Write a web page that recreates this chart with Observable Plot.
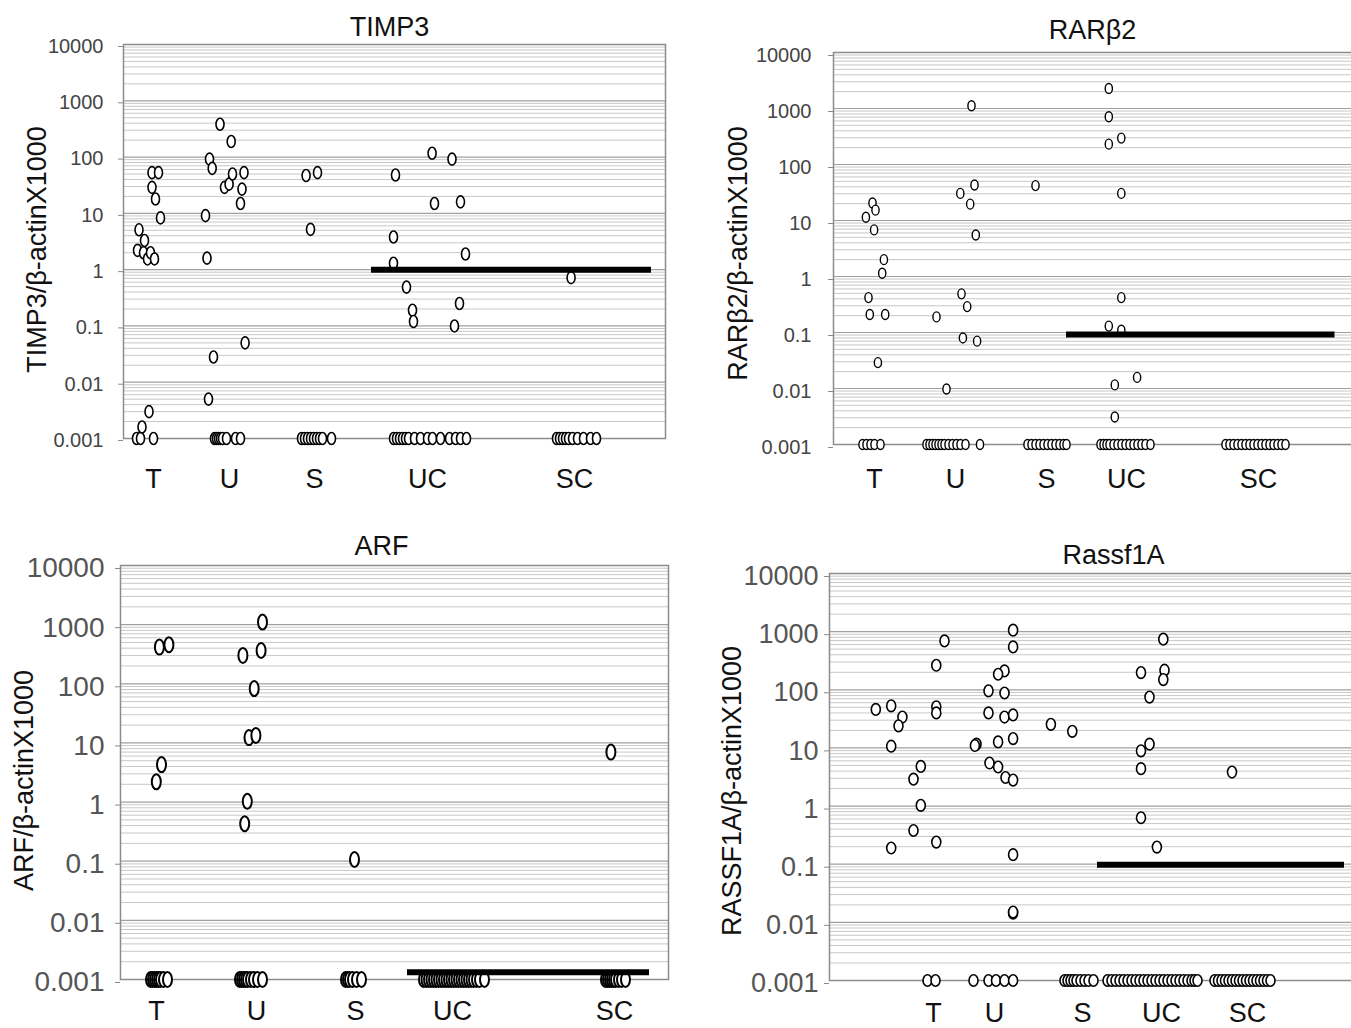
<!DOCTYPE html>
<html><head><meta charset="utf-8">
<script src="https://cdn.jsdelivr.net/npm/d3@7"></script>
<script src="https://cdn.jsdelivr.net/npm/@observablehq/plot@0.6"></script>
<style>
html,body{margin:0;padding:0;background:#fff;}
body{width:1351px;height:1028px;overflow:hidden;position:relative;font-family:"Liberation Sans",Arial,sans-serif;}
.panel{position:absolute;}
.panel svg{overflow:visible;max-width:none !important;}
</style></head><body>
<div id="p1" class="panel" style="left:0px;top:0px;width:680px"></div>
<div id="p2" class="panel" style="left:680px;top:0px;width:690px"></div>
<div id="p3" class="panel" style="left:0px;top:520px;width:680px"></div>
<div id="p4" class="panel" style="left:680px;top:520px;width:690px"></div>
<script>
// ---------- shared ----------
const groups = ["T", "U", "S", "UC", "SC"];
const tickValues = [0.001, 0.01, 0.1, 1, 10, 100, 1000, 10000];
const tickLabels = ["0.001", "0.01", "0.1", "1", "10", "100", "1000", "10000"];
const detectionFloor = 0.001; // undetected samples are plotted at the axis floor

// ---------- TIMP3 ----------
// group centres and per-sample [jitter, value]
const timp3Centers = [30, 106, 191, 304, 451];
const timp3Values = [
  [[-14.5,5.1],[-16,2.2],[-9,3.3],[-10,2.0],[-6,1.55],[-3,2.0],[1,1.55],[-1.5,53],[5,53],[-1.5,29],[2,18],[7,8.3],[-4.5,0.003],[-11.5,0.0016]],
  [[-24,9.1],[-22.5,1.6],[-20,92],[-17.3,63],[-9.5,383],[1.7,189],[-5,29],[-0.4,33],[3,50],[14.5,53],[12.5,27],[11,15],[-16,0.028],[15.6,0.05],[-21,0.005]],
  [[-8.4,47],[3,53],[-4,5.2]],
  [[-32,48],[-34,3.8],[-34,1.3],[-21,0.49],[-15,0.19],[-14,0.12],[4.6,117],[24.5,92],[7,15],[33,16],[38,1.9],[32,0.25],[27,0.10]],
  [[-3.4,0.72]]
];
const timp3Zeros = [
  [-17,-13,0],
  [-15,-13,-11,-9,-7,-3,6,11],
  [-13,-10,-7,-4,-1,2,5,8,17],
  [-34,-31,-28,-25,-22,-19,-13,-7,0,5,13,22,28,33,39],
  [-18,-15,-12,-9,-6,-2,3,9,16,22]
];
const timp3Cutoff = [248, 528, 1];

// ---------- RARβ2 ----------
const rarCenters = [41, 122, 213, 293, 425];
const rarValues = [
  [[-8.6,11.4],[-2,20.5],[1,15.3],[-0.4,6.8],[9.4,2.0],[7.7,1.14],[-6,0.42],[-4.7,0.21],[10.7,0.21],[3.4,0.029]],
  [[-19,0.19],[-9,0.0098],[4.8,30.5],[19,43],[14.7,19.6],[16,1117],[20.3,5.5],[6,0.49],[11.7,0.29],[7.4,0.08],[21.6,0.07]],
  [[-11,42]],
  [[-17.7,2277],[-17.7,711],[-17.7,231],[-5.2,296],[-5.2,30.5],[-5.2,0.42],[-17.7,0.13],[-5.2,0.11],[-11.7,0.0116],[10.6,0.0158],[-11.7,0.0031]],
  []
];
const rarZeros = [
  [-12,-8,-4,0,6],
  [-29,-26,-23,-20,-17,-14,-11,-7,-3,1,5,10,24.5],
  [-19,-15,-11,-7,-3,1,5,9,13,17,20],
  [-26,-23,-20,-17,-13,-9,-5,-1,3,7,11,15,19,24],
  [-33,-29,-25,-21,-17,-13,-9,-5,-1,3,7,11,15,19,23,27]
];
const rarCutoff = [233, 501.5, 0.092];

// ---------- ARF ----------
const arfCenters = [36, 136, 235, 332, 494];
const arfValues = [
  [[2.9,417],[12.4,457],[-0.2,2.2],[5,4.3]],
  [[6,1105],[4.6,366],[-13.6,302],[-2.3,83],[-7.5,12.3],[-0.6,13.4],[-9.2,1.03],[-11.8,0.43]],
  [[-1,0.107]],
  [],
  [[-3.6,7.0]]
];
const arfZeros = [
  [-6,-4,-2,0,2,4,7,11],
  [-17,-15,-13,-11,-9,-6,-3,1,6],
  [-10,-8,-6,-3,1,6],
  [-29,-26.5,-24,-21.5,-19,-16.5,-14,-11.5,-9,-6.5,-4,-1.5,1,3.5,6,8.5,11,13.5,16,18.5,21,24,27,32],
  [-9,-7,-5,-3,-1,1,4,7,11]
];
const arfCutoff = [287, 529, 0.00132];

// ---------- Rassf1A ----------
const rassCenters = [104, 165, 253, 332, 418];
const rassValues = [
  [[-57.7,46],[-42.3,53],[-31.1,34],[-35,24],[-42.3,10.7],[-12.7,4.8],[-20,2.9],[-12.7,1.03],[-20,0.38],[-42.3,0.19],[11,693],[2.8,264],[2.8,51],[2.8,40],[2.8,0.24]],
  [[18.6,1060],[18.6,547],[10,211],[3.6,185],[-6,96],[10,88],[-6,40],[10,34],[18.6,37],[-18,11.6],[-19.6,11],[3.6,12.7],[18.6,14.5],[-5,5.5],[3.6,4.7],[11,3.1],[18.6,2.8],[18.6,0.146],[18.6,0.0144],[18.6,0.015]],
  [[-31.6,25.5],[-10.2,19.3]],
  [[1.8,741],[-20.5,198],[3,217],[1.8,150],[-12,75],[-12,11.6],[-20.5,8.9],[-20.5,4.4],[-20.5,0.63],[-4.6,0.197]],
  [[-15.5,3.85]]
];
const rassZeros = [
  [-6,2],
  [-21,-6,1.5,10,18.6],
  [-18,-15,-12,-9,-6,-2,2,6,11],
  [-54,-50,-46,-42,-38,-34,-30,-26,-22,-18,-14,-10,-6,-2,2,6,10,14,18,22,26,30,33,36],
  [-33,-29.5,-26,-22.5,-19,-15.5,-12,-8.5,-5,-1.5,2,5.5,9,12.5,16,19.5,23]
];
const rassCutoff = [268, 515, 0.098];

// ---------- drawing ----------
const minorTicks = [];
for (let k = -3; k <= 3; k++) for (let m = 2; m <= 9; m++) minorTicks.push(m * Math.pow(10, k));

function ellipse(rx, ry) {
  const k = 0.5523;
  return {
    draw(ctx) {
      ctx.moveTo(rx, 0);
      ctx.bezierCurveTo(rx, ry * k, rx * k, ry, 0, ry);
      ctx.bezierCurveTo(-rx * k, ry, -rx, ry * k, -rx, 0);
      ctx.bezierCurveTo(-rx, -ry * k, -rx * k, -ry, 0, -ry);
      ctx.bezierCurveTo(rx * k, -ry, rx, -ry * k, rx, 0);
      ctx.closePath();
    }
  };
}

function panel(c) {
  const rows = [];
  c.zeros.forEach((g, i) => g.forEach(dx => rows.push({x: c.centers[i] + dx, y: detectionFloor})));
  c.values.forEach((g, i) => g.forEach(([dx, v]) => rows.push({x: c.centers[i] + dx, y: v})));
  const fw = c.width - c.ml - c.mr;
  const plot = Plot.plot({
    width: c.width, height: c.height,
    marginTop: c.mt, marginRight: c.mr, marginBottom: c.mb, marginLeft: c.ml,
    style: {fontFamily: '"Liberation Sans", Arial, sans-serif', background: "white", overflow: "visible", maxWidth: "none"},
    x: {domain: [0, fw]},
    y: {type: "log", domain: [0.001, 10000]},
    marks: [
      Plot.ruleY(minorTicks, {stroke: "#c8c8c8", strokeWidth: 1}),
      Plot.ruleY(tickValues, {stroke: "#a0a0a0", strokeWidth: 1.2}),
      Plot.frame({stroke: "#8c8c8c", strokeWidth: 1.5}),
      Plot.axisY({ticks: tickValues, tickFormat: d => tickLabels[tickValues.indexOf(d)],
        tickSize: 5, tickPadding: c.tickPad, fontSize: c.tickFs, fontFamily: c.tickFont,
        fill: c.tickColor, stroke: "#8c8c8c", label: null, dy: c.tickDy}),
      Plot.axisX({ticks: c.centers, tickFormat: d => groups[c.centers.indexOf(d)],
        tickSize: 0, tickPadding: c.xPad, fontSize: 27, fill: "#111", label: null}),
      Plot.dot(rows, {x: "x", y: "y", symbol: ellipse(c.rx, c.ry), r: 5,
        fill: "white", stroke: "black", strokeWidth: c.sw}),
      Plot.ruleY([c.cutoff], {x1: d => d[0], x2: d => d[1], y: d => d[2], stroke: "black", strokeWidth: 6}),
      Plot.text([c.title], {frameAnchor: "top", lineAnchor: "middle", dx: c.tdx, dy: c.tdy, fontSize: 27, fill: "#111"}),
      Plot.text([c.ylabel], {frameAnchor: "left", rotate: -90, textAnchor: "middle", lineAnchor: "top",
        dx: c.ldx, dy: c.ldy, fontSize: 27, fill: "#111"})
    ]
  });
  document.getElementById(c.el).appendChild(plot);
}

const narrow = '"Liberation Sans Narrow", "Liberation Sans", Arial, sans-serif';
const normal = '"Liberation Sans", Arial, sans-serif';

panel({el: "p1", width: 680, height: 510, mt: 44, mr: 15, mb: 72, ml: 123,
  centers: timp3Centers, values: timp3Values, zeros: timp3Zeros, cutoff: timp3Cutoff,
  title: "TIMP3", tdx: -5, tdy: -17, ylabel: "TIMP3/β-actinX1000", ldx: -97, ldy: 8,
  tickPad: 15, tickFs: 20, tickFont: narrow, tickColor: "#444", tickDy: 2, xPad: 30,
  rx: 4, ry: 6, sw: 1.6});

panel({el: "p2", width: 690, height: 510, mt: 52, mr: 5, mb: 66, ml: 153,
  centers: rarCenters, values: rarValues, zeros: rarZeros, cutoff: rarCutoff,
  title: "RARβ2", tdx: -7, tdy: -22, ylabel: "RARβ2/β-actinX1000", ldx: -106, ldy: 5,
  tickPad: 17, tickFs: 20, tickFont: narrow, tickColor: "#444", tickDy: 3, xPad: 24,
  rx: 3.6, ry: 5, sw: 1.4});

panel({el: "p3", width: 680, height: 508, mt: 45, mr: 12, mb: 49, ml: 120,
  centers: arfCenters, values: arfValues, zeros: arfZeros, cutoff: arfCutoff,
  title: "ARF", tdx: -13, tdy: -19, ylabel: "ARF/β-actinX1000", ldx: -107, ldy: 8,
  tickPad: 11, tickFs: 28, tickFont: normal, tickColor: "#555", tickDy: 3, xPad: 21,
  rx: 4.5, ry: 7.5, sw: 2});

panel({el: "p4", width: 690, height: 508, mt: 53, mr: 5, mb: 48, ml: 149,
  centers: rassCenters, values: rassValues, zeros: rassZeros, cutoff: rassCutoff,
  title: "Rassf1A", tdx: 16, tdy: -18, ylabel: "RASSF1A/β-actinX1000", ldx: -108, ldy: 14,
  tickPad: 6, tickFs: 27, tickFont: normal, tickColor: "#555", tickDy: 3, xPad: 22,
  rx: 4.5, ry: 5.8, sw: 1.6});
</script>
</body></html>
